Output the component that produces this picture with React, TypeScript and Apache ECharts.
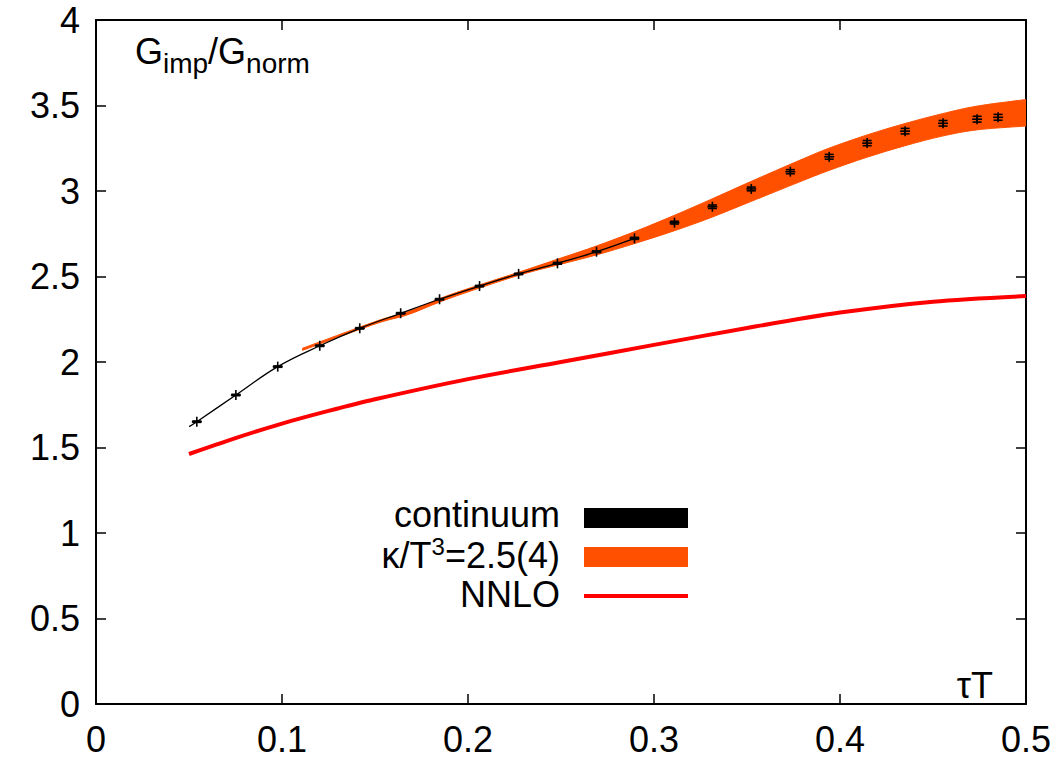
import React, { useEffect, useRef } from 'react';
import * as echarts from 'echarts';

const FONT = '"Liberation Sans", Arial, Helvetica, sans-serif';
const ORANGE = '#ff5000';
const RED = '#ff0000';

// lattice continuum points (tau*T, G_imp/G_norm, error)
const tauPts = [0.0542, 0.0752, 0.0977, 0.1203, 0.1418, 0.1638, 0.1847, 0.2062, 0.2272, 0.2481, 0.2691, 0.2895, 0.311, 0.3314, 0.3523, 0.3733, 0.3942, 0.4146, 0.435, 0.4554, 0.4737, 0.485];
const gPts = [1.651, 1.807, 1.973, 2.095, 2.197, 2.285, 2.367, 2.444, 2.515, 2.577, 2.645, 2.723, 2.815, 2.908, 3.012, 3.113, 3.2, 3.28, 3.35, 3.396, 3.42, 3.431];
const gErr = [0.004, 0.004, 0.004, 0.004, 0.004, 0.004, 0.004, 0.004, 0.004, 0.005, 0.005, 0.006, 0.008, 0.01, 0.011, 0.012, 0.014, 0.015, 0.016, 0.016, 0.017, 0.017];

// continuum curve
const contTau = [0.0501, 0.0542, 0.0752, 0.0977, 0.1203, 0.1418, 0.1638, 0.1847, 0.2062, 0.2272, 0.2481, 0.2691, 0.2895];
const contG = [1.622, 1.651, 1.807, 1.973, 2.095, 2.197, 2.285, 2.367, 2.444, 2.515, 2.577, 2.645, 2.723];

// kappa/T^3 = 2.5(4) band
const bandTau = [0.111, 0.15, 0.168, 0.19, 0.2264, 0.25, 0.269, 0.29, 0.311, 0.33, 0.352, 0.378, 0.394, 0.4146, 0.435, 0.455, 0.474, 0.5];
const bandLo = [2.068, 2.222, 2.278, 2.372, 2.504, 2.572, 2.626, 2.694, 2.768, 2.842, 2.938, 3.052, 3.12, 3.198, 3.265, 3.321, 3.358, 3.38];
const bandHi = [2.08, 2.236, 2.295, 2.392, 2.522, 2.608, 2.678, 2.764, 2.858, 2.948, 3.055, 3.178, 3.25, 3.328, 3.395, 3.452, 3.497, 3.535];

// NNLO
const nnloTau = [0.05, 0.075, 0.1, 0.125, 0.15, 0.2, 0.25, 0.3, 0.35, 0.4, 0.45, 0.5];
const nnloG = [1.462, 1.555, 1.64, 1.714, 1.782, 1.9, 2.0, 2.1, 2.199, 2.289, 2.353, 2.386];

const FS = 36;
const SUB = 28;
const SUP = 24;

function catmull(pts: number[][]): string {
  let d = '';
  for (let i = 0; i < pts.length - 1; i++) {
    const p0 = pts[Math.max(0, i - 1)];
    const p1 = pts[i];
    const p2 = pts[i + 1];
    const p3 = pts[Math.min(pts.length - 1, i + 2)];
    const c1x = p1[0] + (p2[0] - p0[0]) / 6;
    const c1y = p1[1] + (p2[1] - p0[1]) / 6;
    const c2x = p2[0] - (p3[0] - p1[0]) / 6;
    const c2y = p2[1] - (p3[1] - p1[1]) / 6;
    d += ` C ${c1x} ${c1y} ${c2x} ${c2y} ${p2[0]} ${p2[1]}`;
  }
  return d;
}

function measure(text: string, size: number): number {
  const ctx = document.createElement('canvas').getContext('2d');
  if (!ctx) return text.length * size * 0.55;
  ctx.font = `${size}px ${FONT}`;
  return ctx.measureText(text).width;
}

// lays out pieces of text (main / sub / sup) starting at x, main centre at y
function pieces(parts: { t: string; k: 'm' | 'sub' | 'sup' }[], x: number, y: number, alignRight: boolean) {
  const sizes = parts.map((p) => (p.k === 'm' ? FS : p.k === 'sub' ? SUB : SUP));
  const widths = parts.map((p, i) => measure(p.t, sizes[i]));
  let cx = alignRight ? x - widths.reduce((a, b) => a + b, 0) : x;
  return parts.map((p, i) => {
    const dy = p.k === 'sub' ? 12 : p.k === 'sup' ? -9 : 0;
    const el = {
      type: 'text',
      x: cx,
      y: y + dy,
      style: { text: p.t, font: `${sizes[i]}px ${FONT}`, fill: '#000', align: 'left', verticalAlign: 'middle' },
    };
    cx += widths[i];
    return el;
  });
}

export default function App() {
  const ref = useRef<HTMLDivElement>(null);
  useEffect(() => {
    const chart = echarts.init(ref.current!, null, { renderer: 'svg' });
    const axisCommon = {
      axisLine: { show: true, onZero: false, lineStyle: { color: '#000', width: 2 } },
      axisTick: { show: true, inside: true, length: 10, lineStyle: { color: '#000', width: 1.5 } },
      splitLine: { show: false },
    };
    const labelStyle = { color: '#000', fontSize: FS, fontFamily: FONT };

    const titleEls = pieces(
      [
        { t: 'G', k: 'm' },
        { t: 'imp', k: 'sub' },
        { t: '/G', k: 'm' },
        { t: 'norm', k: 'sub' },
      ],
      135,
      51,
      false
    );
    const legendEls = [
      ...pieces([{ t: 'continuum', k: 'm' }], 560, 514, true),
      ...pieces(
        [
          { t: 'κ/T', k: 'm' },
          { t: '3', k: 'sup' },
          { t: '=2.5(4)', k: 'm' },
        ],
        560,
        555,
        true
      ),
      ...pieces([{ t: 'NNLO', k: 'm' }], 560, 594, true),
    ];

    const option: any = {
      animation: false,
      backgroundColor: '#fff',
      grid: { left: 96, right: 34, top: 20, bottom: 58 },
      xAxis: [
        { type: 'value', min: 0, max: 0.5, interval: 0.1, position: 'bottom', ...axisCommon, axisLabel: { ...labelStyle, margin: 17 } },
        { type: 'value', min: 0, max: 0.5, interval: 0.1, position: 'top', ...axisCommon, axisLabel: { show: false } },
      ],
      yAxis: [
        { type: 'value', min: 0, max: 4, interval: 0.5, position: 'left', ...axisCommon, axisLabel: { ...labelStyle, margin: 16 } },
        { type: 'value', min: 0, max: 4, interval: 0.5, position: 'right', ...axisCommon, axisLabel: { show: false } },
      ],
      series: [
        {
          type: 'custom',
          name: 'band',
          clip: true,
          z: 1,
          encode: { x: 0, y: [1, 2] },
          data: bandTau.map((t, i) => [t, bandLo[i], bandHi[i]]),
          renderItem: (params: any, api: any) => {
            if (params.dataIndex !== 0) return null;
            const up = bandTau.map((t, i) => api.coord([t, bandHi[i]]));
            const lo = bandTau.map((t, i) => api.coord([t, bandLo[i]])).reverse();
            let d = `M ${up[0][0]} ${up[0][1]}` + catmull(up);
            d += ` L ${lo[0][0]} ${lo[0][1]}` + catmull(lo) + ' Z';
            return {
              type: 'path',
              shape: { pathData: d },
              style: { fill: ORANGE, stroke: ORANGE, lineWidth: 1 },
            };
          },
        },
        {
          type: 'line',
          name: 'NNLO',
          z: 2,
          data: nnloTau.map((t, i) => [t, nnloG[i]]),
          smooth: 0.3,
          showSymbol: false,
          symbol: 'none',
          lineStyle: { color: RED, width: 4 },
        },
        {
          type: 'line',
          name: 'continuum',
          z: 3,
          data: contTau.map((t, i) => [t, contG[i]]),
          smooth: 0.4,
          showSymbol: false,
          symbol: 'none',
          lineStyle: { color: '#000', width: 1.3 },
        },
        {
          type: 'custom',
          name: 'points',
          z: 4,
          encode: { x: 0, y: 1 },
          data: tauPts.map((t, i) => [t, gPts[i], gErr[i]]),
          renderItem: (params: any, api: any) => {
            const x = api.value(0);
            const y = api.value(1);
            const e = api.value(2);
            const p = api.coord([x, y]);
            const top = api.coord([x, y + e])[1];
            const bot = api.coord([x, y - e])[1];
            const a = 5;
            const c = 4.5;
            const style = { stroke: '#000', lineWidth: 1.6 };
            return {
              type: 'group',
              children: [
                { type: 'line', shape: { x1: p[0] - a, y1: p[1], x2: p[0] + a, y2: p[1] }, style },
                { type: 'line', shape: { x1: p[0], y1: p[1] - a, x2: p[0], y2: p[1] + a }, style },
                { type: 'line', shape: { x1: p[0], y1: top, x2: p[0], y2: bot }, style },
                { type: 'line', shape: { x1: p[0] - c, y1: top, x2: p[0] + c, y2: top }, style },
                { type: 'line', shape: { x1: p[0] - c, y1: bot, x2: p[0] + c, y2: bot }, style },
              ],
            };
          },
        },
      ],
      graphic: [
        ...titleEls,
        {
          type: 'text',
          x: 993,
          y: 685,
          style: { text: 'τT', font: `${FS}px ${FONT}`, fill: '#000', align: 'right', verticalAlign: 'middle' },
        },
        ...legendEls,
        { type: 'rect', shape: { x: 584, y: 508, width: 104, height: 20 }, style: { fill: '#000' } },
        { type: 'rect', shape: { x: 584, y: 547, width: 104, height: 20 }, style: { fill: ORANGE } },
        { type: 'line', shape: { x1: 584, y1: 596, x2: 688, y2: 596 }, style: { stroke: RED, lineWidth: 4 } },
      ],
    };
    chart.setOption(option);
    return () => chart.dispose();
  }, []);
  return <div ref={ref} style={{ position: 'fixed', left: 0, top: 0, width: 1060, height: 762, background: '#fff' }} />;
}
